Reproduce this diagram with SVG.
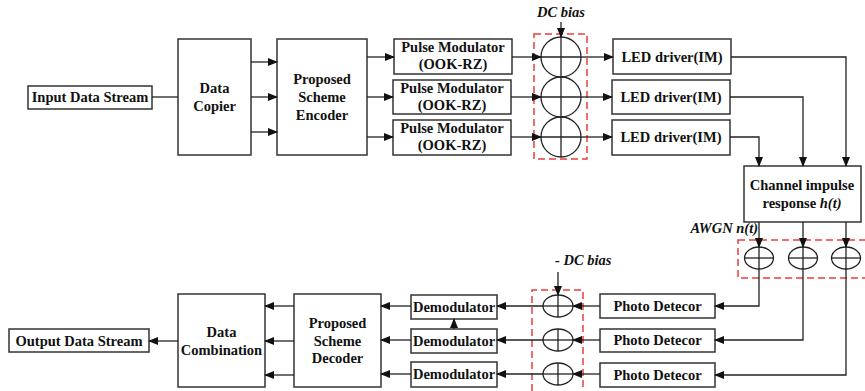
<svg xmlns="http://www.w3.org/2000/svg" width="865" height="391" viewBox="0 0 865 391">
<defs>
<marker id="ah" markerWidth="10" markerHeight="8" refX="9" refY="4" orient="auto" markerUnits="userSpaceOnUse">
<path d="M0,0 L10,4 L0,8 Z" fill="#111"/>
</marker>
<style>
.box{fill:#fff;stroke:#333;stroke-width:1.5}
.t{font-family:"Liberation Serif","Times New Roman",serif;font-weight:bold;font-size:14.5px;fill:#111;text-anchor:middle}
.ti{font-family:"Liberation Serif","Times New Roman",serif;font-weight:bold;font-style:italic;font-size:14.5px;fill:#111}
.c{fill:none;stroke:#222;stroke-width:1.3}
.a{fill:none;stroke:#222;stroke-width:1.3;marker-end:url(#ah)}
.sum{fill:none;stroke:#222;stroke-width:1.3}
.red{fill:none;stroke:#f03c3c;stroke-width:1.5;stroke-dasharray:7,4}
</style>
</defs>
<rect width="865" height="391" fill="#fff"/>

<g id="input"><rect class="box" x="28" y="86" width="124" height="23"/><text class="t" x="90" y="102">Input Data Stream</text></g>
<g id="copier"><rect class="box" x="178" y="39" width="73" height="116"/><text class="t" x="214.5" y="93">Data</text><text class="t" x="214.5" y="111">Copier</text></g>
<g id="encoder"><rect class="box" x="277" y="39" width="90" height="116"/><text class="t" x="322" y="84">Proposed</text><text class="t" x="322" y="102">Scheme</text><text class="t" x="322" y="120">Encoder</text></g>
<g id="pm1"><rect class="box" x="394" y="39" width="118" height="35"/><text class="t" x="453" y="52">Pulse Modulator</text><text class="t" x="453" y="69">(OOK-RZ)</text></g>
<g id="pm2"><rect class="box" x="393" y="80" width="118" height="34"/><text class="t" x="452" y="93">Pulse Modulator</text><text class="t" x="452" y="110">(OOK-RZ)</text></g>
<g id="pm3"><rect class="box" x="393" y="120" width="118" height="35"/><text class="t" x="452" y="133">Pulse Modulator</text><text class="t" x="452" y="150">(OOK-RZ)</text></g>

<g id="dcbias">
<rect class="red" x="534" y="34" width="53" height="125"/>
<text class="ti" x="561" y="17" text-anchor="middle">DC bias</text>
<circle class="sum" cx="561" cy="57" r="20"/><line class="sum" x1="561" y1="37" x2="561" y2="77"/>
<circle class="sum" cx="561" cy="97" r="20"/><line class="sum" x1="561" y1="77" x2="561" y2="117"/>
<circle class="sum" cx="561" cy="137" r="20"/><line class="sum" x1="561" y1="117" x2="561" y2="157"/>
</g>

<g id="led1"><rect class="box" x="613" y="39" width="118" height="35"/><text class="t" x="672" y="62">LED driver(IM)</text></g>
<g id="led2"><rect class="box" x="612" y="80" width="118" height="34"/><text class="t" x="671" y="102">LED driver(IM)</text></g>
<g id="led3"><rect class="box" x="612" y="120" width="118" height="35"/><text class="t" x="671" y="142">LED driver(IM)</text></g>

<g id="channel"><rect class="box" x="744" y="166" width="117" height="56"/><text class="t" x="802" y="190">Channel impulse</text><text class="t" x="802" y="208">response <tspan font-style="italic">h(t)</tspan></text></g>

<g id="awgn">
<rect class="red" x="738" y="240" width="140" height="38"/>
<text class="ti" x="758" y="233" text-anchor="end">AWGN n(t)</text>
<ellipse class="sum" cx="759" cy="258" rx="14.5" ry="11"/><line class="sum" x1="759" y1="247" x2="759" y2="269"/><line class="sum" x1="744.5" y1="258" x2="773.5" y2="258"/>
<ellipse class="sum" cx="803" cy="258" rx="14.5" ry="11"/><line class="sum" x1="803" y1="247" x2="803" y2="269"/><line class="sum" x1="788.5" y1="258" x2="817.5" y2="258"/>
<ellipse class="sum" cx="846" cy="258" rx="14.5" ry="11"/><line class="sum" x1="846" y1="247" x2="846" y2="269"/><line class="sum" x1="831.5" y1="258" x2="860.5" y2="258"/>
</g>

<g id="pd1"><rect class="box" x="600" y="294" width="115" height="24"/><text class="t" x="657.5" y="311">Photo Detecor</text></g>
<g id="pd2"><rect class="box" x="600" y="329" width="115" height="23"/><text class="t" x="657.5" y="345">Photo Detecor</text></g>
<g id="pd3"><rect class="box" x="600" y="363" width="115" height="24"/><text class="t" x="657.5" y="380">Photo Detecor</text></g>

<g id="negdc">
<path class="red" d="M532,391 V290 H583 V391"/>
<text class="ti" x="555" y="265">- DC bias</text>
<ellipse class="sum" cx="558" cy="306" rx="15" ry="11"/><line class="sum" x1="558" y1="295" x2="558" y2="317"/><line class="sum" x1="543" y1="306" x2="573" y2="306"/>
<ellipse class="sum" cx="558" cy="340" rx="15" ry="11"/><line class="sum" x1="558" y1="329" x2="558" y2="351"/><line class="sum" x1="543" y1="340" x2="573" y2="340"/>
<ellipse class="sum" cx="558" cy="374" rx="15" ry="11"/><line class="sum" x1="558" y1="363" x2="558" y2="385"/><line class="sum" x1="543" y1="374" x2="573" y2="374"/>
</g>

<g id="dm1"><rect class="box" x="411" y="295" width="86" height="24"/><text class="t" x="454" y="312">Demodulator</text></g>
<g id="dm2"><rect class="box" x="411" y="329" width="86" height="24"/><text class="t" x="454" y="346">Demodulator</text></g>
<g id="dm3"><rect class="box" x="411" y="362" width="86" height="25"/><text class="t" x="454" y="379">Demodulator</text></g>

<g id="decoder"><rect class="box" x="294" y="294" width="87" height="93"/><text class="t" x="337.5" y="328">Proposed</text><text class="t" x="337.5" y="346">Scheme</text><text class="t" x="337.5" y="363">Decoder</text></g>
<g id="combination"><rect class="box" x="178" y="294" width="87" height="93"/><text class="t" x="221.5" y="337">Data</text><text class="t" x="221.5" y="355">Combination</text></g>
<g id="output"><rect class="box" x="9" y="329" width="140" height="23"/><text class="t" x="79" y="346">Output Data Stream</text></g>

<g id="connectors">
<line class="c" x1="152" y1="97" x2="178" y2="97"/>
<line class="a" x1="251" y1="62" x2="277" y2="62"/>
<line class="a" x1="251" y1="97" x2="277" y2="97"/>
<line class="a" x1="251" y1="132" x2="277" y2="132"/>
<line class="a" x1="367" y1="57" x2="394" y2="57"/>
<line class="a" x1="367" y1="97" x2="393" y2="97"/>
<line class="a" x1="367" y1="137" x2="393" y2="137"/>
<line class="a" x1="512" y1="57" x2="541" y2="57"/>
<line class="a" x1="511" y1="97" x2="541" y2="97"/>
<line class="a" x1="511" y1="137" x2="541" y2="137"/>
<line class="a" x1="561" y1="22" x2="561" y2="37"/>
<line class="c" x1="541" y1="57" x2="581" y2="57"/>
<line class="c" x1="541" y1="97" x2="581" y2="97"/>
<line class="c" x1="541" y1="137" x2="581" y2="137"/>
<line class="a" x1="581" y1="57" x2="613" y2="57"/>
<line class="a" x1="581" y1="97" x2="612" y2="97"/>
<line class="a" x1="581" y1="137" x2="612" y2="137"/>
<path class="a" d="M731,57 H846 V166"/>
<path class="a" d="M730,97 H803 V166"/>
<path class="a" d="M730,137 H759 V166"/>
<line class="a" x1="759" y1="222" x2="759" y2="247"/>
<line class="a" x1="803" y1="222" x2="803" y2="247"/>
<line class="a" x1="846" y1="222" x2="846" y2="247"/>
<path class="a" d="M759,269 V306 H715"/>
<path class="a" d="M803,269 V340 H715"/>
<path class="a" d="M846,269 V375 H715"/>
<line class="a" x1="600" y1="306" x2="573" y2="306"/>
<line class="a" x1="600" y1="340" x2="573" y2="340"/>
<line class="a" x1="600" y1="374" x2="573" y2="374"/>
<line class="a" x1="558" y1="272" x2="558" y2="295"/>
<line class="a" x1="543" y1="306" x2="497" y2="306"/>
<line class="a" x1="543" y1="340" x2="497" y2="340"/>
<line class="a" x1="543" y1="374" x2="497" y2="374"/>
<line class="a" x1="454" y1="329" x2="454" y2="319"/>
<line class="a" x1="411" y1="306" x2="381" y2="306"/>
<line class="a" x1="411" y1="340" x2="381" y2="340"/>
<line class="a" x1="411" y1="374" x2="381" y2="374"/>
<line class="a" x1="294" y1="306" x2="265" y2="306"/>
<line class="a" x1="294" y1="341" x2="265" y2="341"/>
<line class="a" x1="294" y1="375" x2="265" y2="375"/>
<line class="a" x1="178" y1="341" x2="149" y2="341"/>
</g>
</svg>
